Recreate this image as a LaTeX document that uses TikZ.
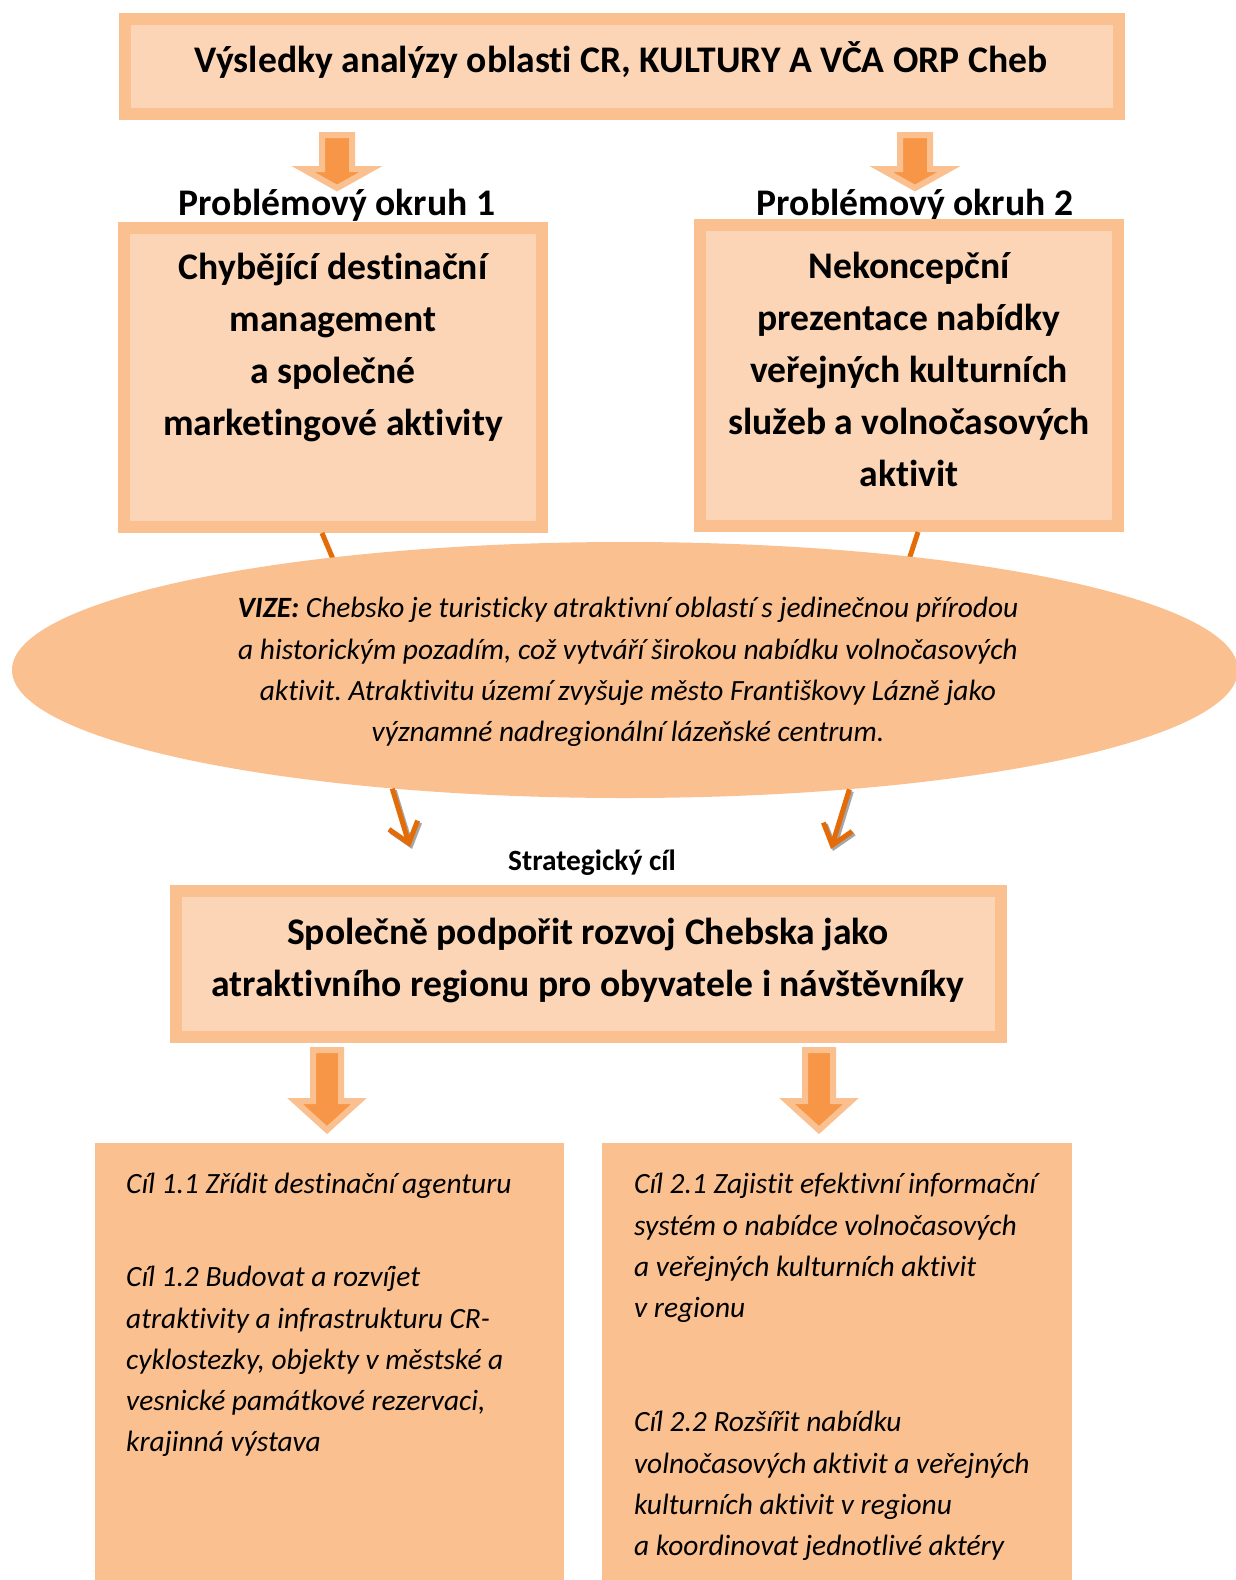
\documentclass[tikz,border=0pt]{standalone}
\usepackage{fontspec}
\setmainfont{Carlito}[Ligatures=NoCommon]
\frenchspacing
\usetikzlibrary{arrows.meta,shapes.geometric}
\definecolor{bordc}{HTML}{FAC090}
\definecolor{innerc}{HTML}{FBD5B5}
\definecolor{arrc}{HTML}{F79646}
\definecolor{linec}{HTML}{E36C09}
\definecolor{shadc}{HTML}{A6A6A6}
\begin{document}
\begin{tikzpicture}[x=1pt,y=-1pt,
  box/.style={draw=bordc, fill=innerc, line width=12pt, inner sep=0pt, outer sep=6pt},
  bigtext/.style={font=\fontsize{37.6}{52}\selectfont\bfseries, align=center, inner sep=0pt},
  ittext/.style={font=\fontsize{29.4}{41.3}\selectfont\itshape, align=left, inner sep=0pt, anchor=north west},
  goalbox/.style={fill=bordc, inner sep=0pt, anchor=north west, minimum height=450pt},
  conn/.style={draw=linec, line width=5pt},
  connarrow/.style={conn, -{Straight Barb[length=19pt,width=30pt]}},
  arrowshape/.style={fill=arrc, draw=bordc, line width=6pt, line join=miter},
  pics/barrow/.style n args={4}{code={
    \draw[arrowshape] (-#1,0) -- (#1,0) -- (#1,#3) -- (#2,#3) -- (0,#4) -- (-#2,#3) -- (-#1,#3) -- cycle;}}
]
\useasboundingbox (0,0) rectangle (1235,1580);
\fill[white] (0,0) rectangle (1235,1580);

% top box
\node[box, minimum width=994.5pt, minimum height=95pt] (top) at (621.75,66.5) {};
\node[bigtext] (toptext) at (621,60) {Výsledky analýzy oblasti CR, KULTURY A VČA ORP Cheb};

% block arrows
\pic at (337,135) {barrow={15}{34}{34}{53}};
\pic at (915,135) {barrow={15}{34}{34}{53}};

% labels
\node[bigtext] (lab1) at (337,205) {Problémový okruh 1};
\node[bigtext] (lab2) at (915,205) {Problémový okruh 2};

% problem boxes
\node[box, minimum width=418pt, minimum height=299pt] (p1) at (333,377.5) {};
\node[bigtext] (p1t) at (333,347) {Chybějící destinační\\management\\a společné\\marketingové aktivity};
\node[box, minimum width=418pt, minimum height=301pt] (p2) at (909,375.5) {};
\node[bigtext] (p2t) at (909,369.5) {Nekoncepční\\prezentace nabídky\\veřejných kulturních\\služeb a volnočasových\\aktivit};

% connectors into ellipse
\coordinate (e1) at (341,578);
\coordinate (e2) at (903,578);
\draw[conn] ([xshift=-11pt]p1.south) -- (e1);
\draw[conn] ([xshift=9pt]p2.south) -- (e2);

% vision ellipse
\node[ellipse, fill=bordc, minimum width=1226pt, minimum height=256pt, inner sep=0pt] (vize) at (625,670) {};
\node[font=\fontsize{29.4}{41.3}\selectfont\itshape, align=center, inner sep=0pt] (vizet) at (628,672)
  {\textbf{VIZE:} Chebsko je turisticky atraktivní oblastí s jedinečnou přírodou\\
   a historickým pozadím, což vytváří širokou nabídku volnočasových\\
   aktivit. Atraktivitu území zvyšuje město Františkovy Lázně jako\\
   významné nadregionální lázeňské centrum.};

% arrows out of ellipse
\coordinate (t1) at (410,847);
\coordinate (t2) at (831,849);
\begin{scope}[transform canvas={shift={(2,2)}}]
  \draw[connarrow, draw=shadc] (vize.207.5) -- (t1);
  \draw[connarrow, draw=shadc] (vize.-28.8) -- (t2);
\end{scope}
\draw[connarrow] (vize.207.5) -- (t1);
\draw[connarrow] (vize.-28.8) -- (t2);

% strategic goal
\node[font=\fontsize{29.4}{34}\selectfont\bfseries, inner sep=0pt] (stlab) at (592,863) {Strategický cíl};
\node[box, minimum width=825pt, minimum height=146pt] (sc) at (588.5,964) {};
\node[bigtext] (sct) at (588,960) {Společně podpořit rozvoj Chebska jako\\atraktivního regionu pro obyvatele i návštěvníky};

% block arrows down
\pic at (327,1050) {barrow={14}{32}{51}{80}};
\pic at (819,1050) {barrow={14}{32}{51}{80}};

% goal boxes
\node[goalbox, minimum width=469pt] (g1) at (95,1143) {};
\node[goalbox, minimum width=470pt] (g2) at (602,1143) {};
\node[ittext] (g1a) at (126,1164.6) {\strut Cíl 1.1 Zřídit destinační agenturu};
\node[ittext] (g1b) at (126,1257.6) {\strut Cíl 1.2 Budovat a rozvíjet\\atraktivity a infrastrukturu CR-\\cyklostezky, objekty v městské a\\vesnické památkové rezervaci,\\krajinná výstava};
\node[ittext] (g2a) at (634,1164.6) {\strut Cíl 2.1 Zajistit efektivní informační\\systém o nabídce volnočasových\\a veřejných kulturních aktivit\\v regionu};
\node[ittext] (g2b) at (634,1402.6) {\strut Cíl 2.2 Rozšířit nabídku\\volnočasových aktivit a veřejných\\kulturních aktivit v regionu\\a koordinovat jednotlivé aktéry};
\end{tikzpicture}
\end{document}
